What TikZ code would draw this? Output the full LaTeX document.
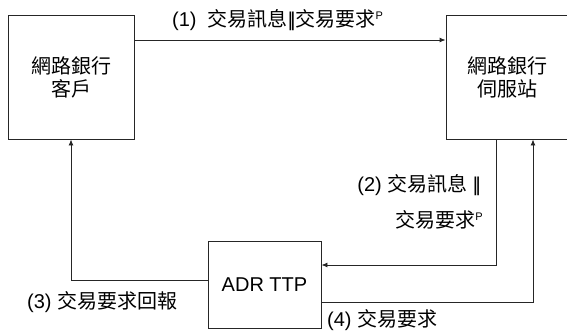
\documentclass[tikz,border=0pt]{standalone}
\usepackage{fontspec}
\setmainfont{Liberation Sans}
\newfontfamily\cjk{Noto Sans CJK TC}
\usetikzlibrary{arrows.meta}
\newcommand{\dbar}{|\kern-2.5pt|}
\newcommand{\supP}{\raisebox{7pt}{\fontsize{11}{12}\selectfont P}}
\begin{document}
\begin{tikzpicture}[x=1pt,y=-1pt,
  box/.style={draw=black!85,line width=0.9pt,minimum width=#1,inner sep=0pt,align=center,font=\fontsize{20}{23}\selectfont},
  conn/.style={draw=black!85,line width=0.9pt},
  arr/.style={conn,-{Latex[length=6pt,width=5pt]}},
  lbl/.style={inner sep=0pt,font=\fontsize{20}{23}\selectfont}]
\useasboundingbox (0,0) rectangle (567,335);
\begin{scope}
\clip (0,0) rectangle (567,335);
\node[box=126pt,minimum height=124pt] (client) at (71,77) {{\cjk 網路銀行}\\{\cjk 客戶}};
\node[box=126pt,minimum height=124pt] (server) at (509,77) {\hspace*{-4pt}{\cjk 網路銀行}\\\hspace*{-4pt}{\cjk 伺服站}};
\node[box=113pt,minimum height=87pt] (adr) at (264.5,284.5) {ADR TTP};
\end{scope}
\coordinate (y1) at (0,40);
\coordinate (x2) at (496,0);
\coordinate (y2) at (0,265);
\coordinate (y3) at (0,280);
\coordinate (y4) at (0,302);
\coordinate (x4) at (533,0);
\draw[arr] (client.east |- y1) -- (server.west |- y1);
\draw[arr] (server.south -| x2) |- (adr.east |- y2);
\draw[arr] (adr.west |- y3) -| (client.south);
\draw[arr] (adr.east |- y4) -| (server.south -| x4);
\node[lbl,anchor=west] (l1) at (172,20) {(1)\ \ {\cjk 交易訊息}\dbar{\cjk 交易要求}\supP};
\node[lbl,anchor=east] (l2a) at (481,185) {(2) {\cjk 交易訊息} \dbar};
\node[lbl,anchor=east] (l2b) at (483,220) {{\cjk 交易要求}\supP};
\node[lbl,anchor=west] (l3) at (27,302) {(3) {\cjk 交易要求回報}};
\node[lbl,anchor=west] (l4) at (327,320) {(4) {\cjk 交易要求}};
\end{tikzpicture}
\end{document}
